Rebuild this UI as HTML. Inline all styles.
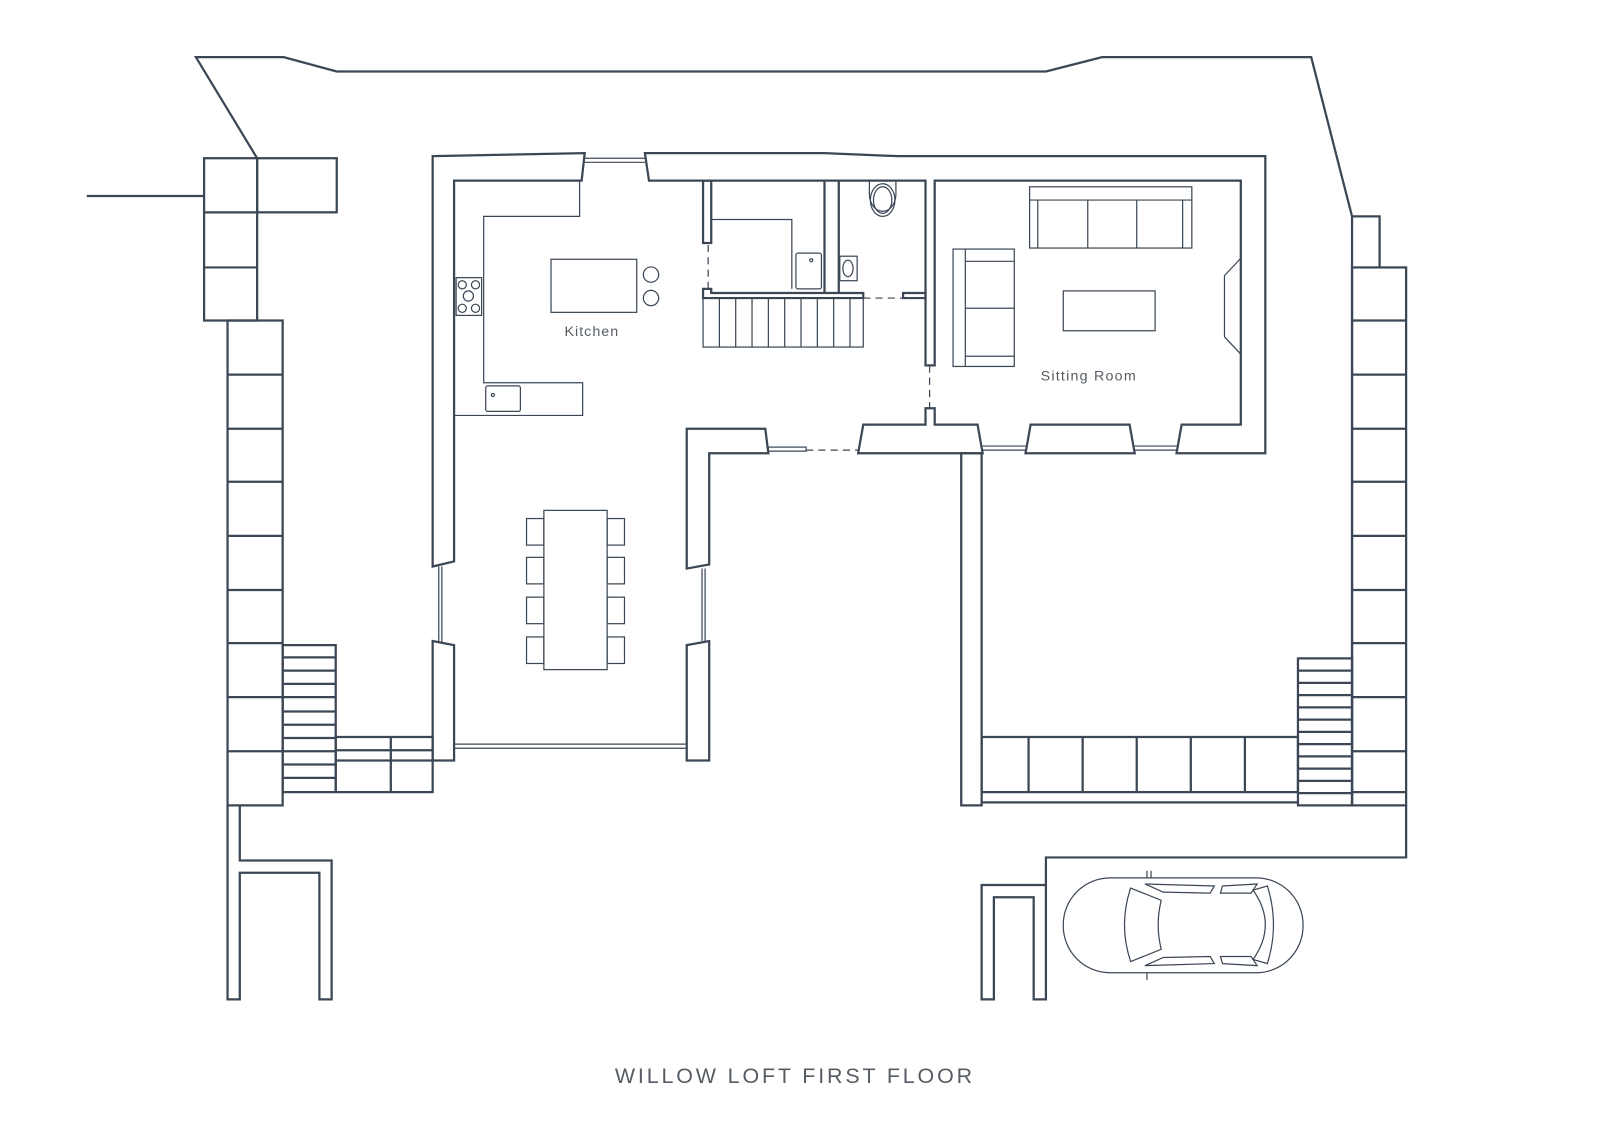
<!DOCTYPE html>
<html><head><meta charset="utf-8"><style>
html,body{margin:0;padding:0;background:#fff;}
svg{display:block;}
</style></head><body>
<svg width="1600" height="1131" viewBox="0 0 1568 1108" preserveAspectRatio="none" xmlns="http://www.w3.org/2000/svg">
<g fill="none" stroke="#3b4754" stroke-width="2.2" stroke-linejoin="miter">
<polyline points="252,155 192,56 278,56 330,70 1025,70 1080,56 1285,56 1325,212 1352,212 1352,262"/>
<line x1="85" y1="192" x2="200" y2="192"/>
<rect x="200" y="155" width="52" height="159"/>
<line x1="200" y1="208" x2="252" y2="208"/><line x1="200" y1="262" x2="252" y2="262"/>
<rect x="252" y="155" width="78" height="53"/>
<rect x="223" y="314" width="54" height="475"/>
<g>
<line x1="223" y1="367" x2="277" y2="367"/><line x1="223" y1="420" x2="277" y2="420"/>
<line x1="223" y1="472" x2="277" y2="472"/><line x1="223" y1="525" x2="277" y2="525"/>
<line x1="223" y1="578" x2="277" y2="578"/><line x1="223" y1="630" x2="277" y2="630"/>
<line x1="223" y1="683" x2="277" y2="683"/><line x1="223" y1="736" x2="277" y2="736"/>
</g>
<rect x="277" y="632" width="52" height="144"/>
<path d="M277 644H329M277 657H329M277 670H329M277 683H329M277 697H329M277 710H329M277 723H329M277 736H329M277 749H329M277 762H329"/>
<rect x="329" y="722" width="95" height="54"/>
<path d="M329 735H424M329 745H424M383 722V776"/>
<polyline points="223,789 223,979 235,979 235,855 313,855 313,979 325,979 325,843 235,843 235,789"/>
<polyline points="1325,212 1325,789"/>
<rect x="1325" y="262" width="53" height="527"/>
<path d="M1325 314H1378M1325 367H1378M1325 420H1378M1325 472H1378M1325 525H1378M1325 578H1378M1325 630H1378M1325 683H1378M1325 736H1378M1325 776H1378"/>
<rect x="1272" y="645" width="53" height="144"/>
<path d="M1272 657H1325M1272 669H1325M1272 681H1325M1272 693H1325M1272 705H1325M1272 717H1325M1272 729H1325M1272 741H1325M1272 753H1325M1272 765H1325M1272 777H1325"/>
<rect x="962" y="722" width="310" height="54"/>
<path d="M1008 722V776M1061 722V776M1114 722V776M1167 722V776M1220 722V776"/>
<line x1="962" y1="786" x2="1272" y2="786"/>
<polyline points="1378,789 1378,840 1025,840 1025,979 1013,979 1013,879 974,879 974,979 962,979 962,867 1025,867"/>
<rect x="942" y="444" width="20" height="345"/>
<polygon points="424,153 573,150 570,177 445,177 445,550 424,555"/>
<polygon points="632,150 808,150 880,153 1240,153 1240,444 1153,444 1158,416 1216,416 1216,177 916,177 916,358 907,358 907,177 636,177"/>
<polygon points="673,420 750,420 753,444 695,444 695,553 673,557"/>
<polygon points="673,632 695,628 695,745 673,745"/>
<polygon points="424,628 445,632 445,745 424,745"/>
<polygon points="846,416 907,416 907,400 916,400 916,416 958,416 963,444 841,444"/>
<polygon points="1010,416 1107,416 1112,444 1005,444"/>
<polygon points="689,177 697,177 697,238 689,238"/>
<polygon points="689,283 697,283 697,287 846,287 846,292 689,292"/>
<line x1="808" y1="177" x2="808" y2="287"/>
<polyline points="822,177 822,287"/>
<polygon points="885,287 907,287 907,292 885,292"/>
</g>
<g fill="none" stroke="#3b4754" stroke-width="1.2">
<path d="M573 155H632M573 159H632"/>
<path d="M430 555V630M433 555V630M688 557V628M691 557V628"/>
<path d="M445 729H673M445 733H673"/>
<path d="M963 437H1005M963 441H1005M1112 437H1153M1112 441H1153"/>
<rect x="753" y="438" width="37" height="4"/>
<path d="M694 240V283M846 292H885M911 358V400M790 441H841" stroke-dasharray="7,5"/>
<polyline points="568,177 568,212 474,212 474,375 571,375 571,407 445,407"/>
<rect x="447" y="272" width="25" height="37"/>
<circle cx="453" cy="279" r="4"/><circle cx="466" cy="279" r="4"/><circle cx="459" cy="290" r="5"/><circle cx="453" cy="302" r="4"/><circle cx="466" cy="302" r="4"/>
<rect x="476" y="378" width="34" height="25" rx="2"/><circle cx="483" cy="387" r="1.5"/>
<rect x="540" y="254" width="84" height="52"/>
<circle cx="638" cy="269" r="7.5"/><circle cx="638" cy="292" r="7.5"/>
<rect x="533" y="500" width="62" height="156"/>
<rect x="516" y="508" width="17" height="26"/><rect x="516" y="546" width="17" height="26"/><rect x="516" y="585" width="17" height="26"/><rect x="516" y="624" width="17" height="26"/>
<rect x="595" y="508" width="17" height="26"/><rect x="595" y="546" width="17" height="26"/><rect x="595" y="585" width="17" height="26"/><rect x="595" y="624" width="17" height="26"/>
<rect x="689" y="292" width="157" height="48"/>
<path d="M705 292V340M721 292V340M737 292V340M753 292V340M769 292V340M785 292V340M801 292V340M817 292V340M833 292V340"/>
<polyline points="697,215 776,215 776,283"/>
<rect x="780" y="248" width="25" height="35" rx="2"/><circle cx="795" cy="255" r="1.5"/>
<path d="M852 177V190A13 17 0 0 0 878 190V177"/>
<ellipse cx="865" cy="196" rx="12" ry="16"/><ellipse cx="865" cy="196" rx="9" ry="13"/>
<rect x="823" y="251" width="17" height="24"/><ellipse cx="831" cy="263" rx="5" ry="8"/>
<rect x="1009" y="183" width="159" height="60"/>
<path d="M1009 196H1168M1017 196V243M1159 196V243M1066 196V243M1114 196V243"/>
<rect x="934" y="244" width="60" height="115"/>
<path d="M946 244V359M946 256H994M946 349H994M946 302H994"/>
<rect x="1042" y="285" width="90" height="39"/>
<polyline points="1216,253 1200,270 1200,330 1216,347"/>
<rect x="1042" y="860" width="235" height="93" rx="46"/>
<path d="M1108 870Q1096 906 1108 942L1138 930Q1132 906 1138 882Z"/>
<path d="M1228 872Q1252 906 1228 940L1242 944Q1254 906 1242 868Z"/>
<path d="M1122 866L1190 868L1186 875L1140 874Z"/>
<path d="M1122 946L1190 944L1186 937L1140 938Z"/>
<path d="M1198 868L1232 866L1226 875L1196 875Z"/>
<path d="M1198 944L1232 946L1226 937L1196 937Z"/>
<path d="M1124 860V853M1124 953V960M1128 860V853"/>
</g>
<g font-family="Liberation Sans, sans-serif" fill="#555c63" text-anchor="middle">
<text x="580" y="329" font-size="14" letter-spacing="1">Kitchen</text>
<text x="1067" y="373" font-size="14" letter-spacing="1.2">Sitting Room</text>
<text x="779" y="1061" font-size="21" letter-spacing="2.8">WILLOW LOFT FIRST FLOOR</text>
</g>
</svg>
</body></html>
